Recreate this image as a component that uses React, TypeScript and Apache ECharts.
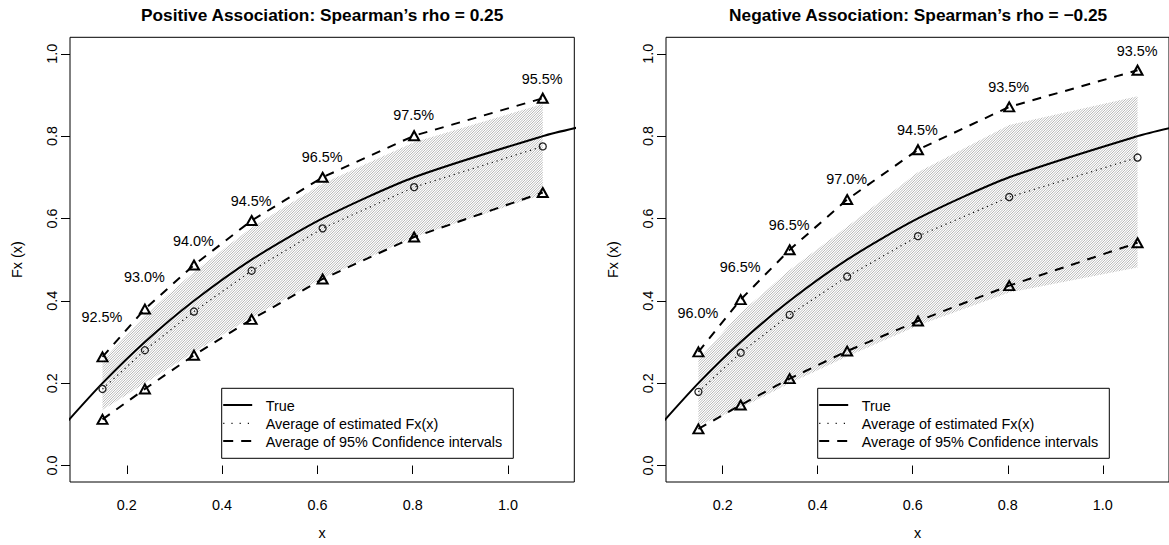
import React, { useEffect, useRef } from 'react';
import * as echarts from 'echarts';

// ---------------- data ----------------
const xPoints = [0.149, 0.238, 0.341, 0.462, 0.611, 0.803, 1.073];
const trueX = [0.07, 0.149, 0.238, 0.341, 0.462, 0.611, 0.803, 1.073, 1.15];
const trueY = [0.1, 0.2, 0.3, 0.4, 0.5, 0.6, 0.7, 0.8, 0.822];

// Positive association panel
const posEst = [0.186, 0.28, 0.374, 0.473, 0.576, 0.676, 0.775];
const posUpper = [0.264, 0.38, 0.487, 0.595, 0.7, 0.801, 0.892];
const posLower = [0.112, 0.186, 0.268, 0.355, 0.453, 0.555, 0.663];
const posBandUp = [0.255, 0.365, 0.47, 0.578, 0.685, 0.785, 0.878];
const posBandLo = [0.135, 0.2, 0.275, 0.36, 0.455, 0.555, 0.658];
const posCoverage = ['92.5%', '93.0%', '94.0%', '94.5%', '96.5%', '97.5%', '95.5%'];
const posLabelY = [0.359, 0.457, 0.543, 0.641, 0.749, 0.849, 0.937];

// Negative association panel
const negEst = [0.179, 0.274, 0.366, 0.459, 0.557, 0.652, 0.748];
const negUpper = [0.276, 0.403, 0.524, 0.646, 0.767, 0.871, 0.96];
const negLower = [0.089, 0.147, 0.211, 0.278, 0.351, 0.437, 0.541];
const negBandUp = [0.258, 0.371, 0.475, 0.58, 0.712, 0.827, 0.897];
const negBandLo = [0.098, 0.14, 0.2, 0.265, 0.34, 0.42, 0.481];
const negCoverage = ['96.0%', '96.5%', '96.5%', '97.0%', '94.5%', '93.5%', '93.5%'];
const negLabelY = [0.37, 0.48, 0.5825, 0.695, 0.813, 0.917, 1.006];

const xTicks = [0.2, 0.4, 0.6, 0.8, 1.0];
const yTicks = [0.0, 0.2, 0.4, 0.6, 0.8, 1.0];

const titles = ["Positive Association: Spearman\u2019s rho = 0.25", "Negative Association: Spearman\u2019s rho = \u22120.25"];
const legendLabels = ['True', 'Average of estimated Fx(x)', 'Average of 95% Confidence intervals'];

// ---------------- styling / layout ----------------
const FONT = "'Liberation Sans', Arial, Helvetica, sans-serif";
const FS = 14.4;
const GRID_TOP = 37.3;
const GRID_H = 451;
const GRID_W = 504.3;
const GRID_LEFTS = [70, 666];

function hatchPattern() {
  const T = 5;
  let d = '';
  for (const c of [0, 2.5, 5, 7.5, 10]) d += `M${c + 1},-1L${c - 6},6`;
  const svg = `<svg xmlns='http://www.w3.org/2000/svg' width='${T}' height='${T}'><path d='${d}' stroke='#959595' stroke-width='0.65' fill='none'/></svg>`;
  return {
    image: 'data:image/svg+xml;charset=utf-8,' + encodeURIComponent(svg),
    repeat: 'repeat',
    imageWidth: T,
    imageHeight: T,
  } as any;
}

const zip = (xs: number[], ys: number[]) => xs.map((x, i) => [x, ys[i]]);

function panelSeries(idx: number, est: number[], up: number[], lo: number[], bUp: number[], bLo: number[], cov: string[], labY: number[], pattern: any) {
  const common = { xAxisIndex: idx, yAxisIndex: idx, silent: true, animation: false };
  return [
    {
      ...common,
      type: 'custom',
      z: 1,
      data: [[xPoints[0], bLo[0]]],
      renderItem: (_p: any, api: any) => {
        const pts: number[][] = [];
        for (let i = 0; i < xPoints.length; i++) pts.push(api.coord([xPoints[i], bUp[i]]));
        for (let i = xPoints.length - 1; i >= 0; i--) pts.push(api.coord([xPoints[i], bLo[i]]));
        return { type: 'polygon', shape: { points: pts }, style: { fill: pattern, stroke: null } };
      },
    },
    {
      ...common,
      type: 'line',
      z: 3,
      data: zip(trueX, trueY),
      showSymbol: false,
      symbol: 'none',
      clip: true,
      smooth: 0.25,
      lineStyle: { color: '#000', width: 2, type: 'solid' },
    },
    {
      ...common,
      type: 'line',
      z: 4,
      data: zip(xPoints, est),
      symbol: 'circle',
      symbolSize: 7,
      showSymbol: true,
      itemStyle: { color: 'rgba(0,0,0,0)', borderColor: '#222', borderWidth: 1.3 },
      lineStyle: { color: '#111', width: 1.2, type: [1.2, 3.8] },
    },
    ...[up, lo].map((arr) => ({
      ...common,
      type: 'line',
      z: 5,
      data: zip(xPoints, arr),
      symbol: 'triangle',
      symbolSize: [10, 9],
      showSymbol: true,
      itemStyle: { color: 'rgba(0,0,0,0)', borderColor: '#000', borderWidth: 2 },
      lineStyle: { color: '#000', width: 2, type: [9, 8] },
    })),
    {
      ...common,
      type: 'scatter',
      z: 6,
      data: zip(xPoints, labY),
      symbolSize: 1,
      itemStyle: { opacity: 0 },
      label: {
        show: true,
        position: [0, 0],
        align: 'center',
        verticalAlign: 'middle',
        formatter: (p: any) => cov[p.dataIndex],
        fontFamily: FONT,
        fontSize: FS,
        color: '#000',
        opacity: 1,
      },
    },
  ];
}

function legendGraphics(ox: number) {
  const x0 = 221.7 + ox;
  const rows = [405, 423.3, 441];
  const els: any[] = [
    { type: 'rect', z: 100, shape: { x: x0, y: 388.3, width: 291.6, height: 70 }, style: { fill: '#fff', stroke: '#000', lineWidth: 1 } },
    { type: 'line', z: 101, shape: { x1: x0 + 1.5, y1: rows[0], x2: x0 + 30.5, y2: rows[0] }, style: { stroke: '#000', lineWidth: 2 } },
    { type: 'line', z: 101, shape: { x1: x0 + 1.5, y1: rows[1], x2: x0 + 30.5, y2: rows[1] }, style: { stroke: '#111', lineWidth: 1.2, lineDash: [1.2, 7] } },
    { type: 'line', z: 101, shape: { x1: x0 + 1.5, y1: rows[2], x2: x0 + 30.5, y2: rows[2] }, style: { stroke: '#000', lineWidth: 2, lineDash: [10, 8] } },
  ];
  legendLabels.forEach((t, i) => {
    els.push({
      type: 'text', z: 101, x: x0 + 44, y: rows[i] + 0.5,
      style: { text: t, font: `${FS}px ${FONT}`, fill: '#000', align: 'left', verticalAlign: 'middle', textAlign: 'left', textVerticalAlign: 'middle' },
    });
  });
  return els;
}

export default function App() {
  const ref = useRef<HTMLDivElement>(null);
  useEffect(() => {
    if (!ref.current) return;
    const chart = echarts.init(ref.current, null, { renderer: 'svg' });
    const pattern = hatchPattern();
    const axisText = { fontFamily: FONT, fontSize: FS, color: '#000' };
    const xAxes = [0, 1].map((g) => ({
      type: 'value', gridIndex: g, min: 0.0808, max: 1.1392,
      name: 'x', nameLocation: 'middle', nameGap: 44, nameTextStyle: axisText,
      axisLine: { show: false },
      axisTick: { show: true, length: 8.5, customValues: xTicks, lineStyle: { color: '#000', width: 1 } },
      axisLabel: { ...axisText, customValues: xTicks, margin: 16, formatter: (v: number) => v.toFixed(1) },
      splitLine: { show: false },
    }));
    const yAxes = [0, 1].map((g) => ({
      type: 'value', gridIndex: g, min: -0.04, max: 1.04,
      name: 'Fx (x)', nameLocation: 'middle', nameGap: 46, nameTextStyle: axisText,
      axisLine: { show: false },
      axisTick: { show: true, length: 9, customValues: yTicks, lineStyle: { color: '#000', width: 1 } },
      axisLabel: { ...axisText, customValues: yTicks, rotate: 90, margin: 11, formatter: (v: number) => v.toFixed(1) },
      splitLine: { show: false },
    }));
    const centers = GRID_LEFTS.map((l) => l + GRID_W / 2);
    chart.setOption({
      animation: false,
      backgroundColor: '#fff',
      grid: GRID_LEFTS.map((l) => ({ left: l, top: GRID_TOP, width: GRID_W, height: GRID_H, show: true, borderColor: '#000', borderWidth: 1, backgroundColor: 'transparent' })),
      xAxis: xAxes,
      yAxis: yAxes,
      series: [
        ...panelSeries(0, posEst, posUpper, posLower, posBandUp, posBandLo, posCoverage, posLabelY, pattern),
        ...panelSeries(1, negEst, negUpper, negLower, negBandUp, negBandLo, negCoverage, negLabelY, pattern),
      ],
      graphic: [
        ...titles.map((t, i) => ({
          type: 'text', z: 100, x: centers[i], y: 15,
          style: { text: t, font: `bold 17.3px ${FONT}`, fill: '#000', align: 'center', verticalAlign: 'middle', textAlign: 'center', textVerticalAlign: 'middle' },
        })),
        ...legendGraphics(0),
        ...legendGraphics(GRID_LEFTS[1] - GRID_LEFTS[0]),
      ],
    } as any);
    return () => chart.dispose();
  }, []);
  return <div ref={ref} style={{ position: 'absolute', left: 0, top: 0, width: 1169, height: 545 }} />;
}
